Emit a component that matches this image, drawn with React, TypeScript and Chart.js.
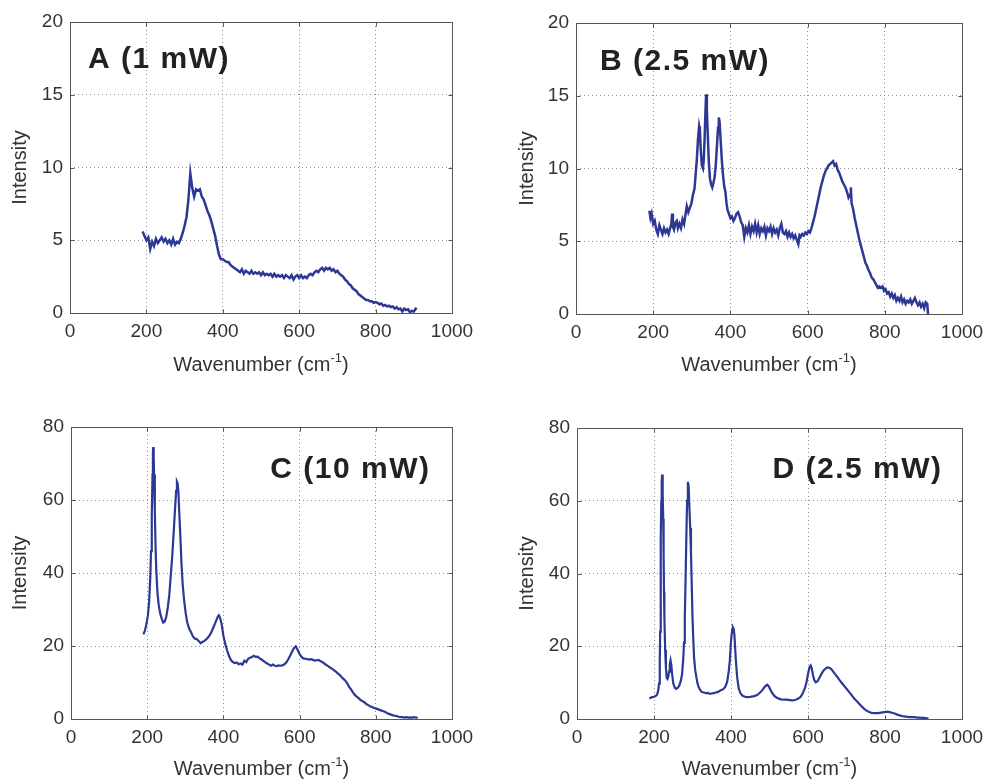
import React, { useEffect, useRef } from "react";
import { Chart, registerables } from "chart.js";

Chart.register(...registerables);

// ---------------- data ----------------
const xA = [190,195,200,205,210,215,220,225,230,235,240,245,250,255,260,265,270,275,280,285,290,295,300,305,310,315,320,325,330,335,340,345,350,355,360,365,370,375,380,385,390,395,400,405,410,415,420,425,430,435,440,445,450,455,460,465,470,475,480,485,490,495,500,505,510,515,520,525,530,535,540,545,550,555,560,565,570,575,580,585,590,595,600,605,610,615,620,625,630,635,640,645,650,655,660,665,670,675,680,685,690,695,700,705,710,715,720,725,730,735,740,745,750,755,760,765,770,775,780,785,790,795,800,805,810,815,820,825,830,835,840,845,850,855,860,865,870,875,880,885,890,895,900,905,908];
const yA = [5.6,5.3,5.0,5.2,4.4,4.9,4.6,5.1,4.8,5.0,5.2,4.9,5.1,4.8,5.0,4.7,5.1,4.7,4.9,4.8,5.1,5.5,6.0,6.6,7.8,9.6,8.6,8.0,8.5,8.4,8.5,8.0,7.8,7.4,7.0,6.7,6.3,5.8,5.3,4.6,4.0,3.7,3.7,3.6,3.5,3.5,3.3,3.2,3.1,3.0,2.9,2.8,3.0,2.7,2.9,2.8,2.7,2.9,2.7,2.8,2.7,2.8,2.6,2.8,2.6,2.7,2.6,2.7,2.5,2.7,2.5,2.6,2.5,2.6,2.4,2.6,2.5,2.4,2.6,2.3,2.5,2.6,2.4,2.6,2.4,2.5,2.4,2.6,2.7,2.6,2.8,2.9,2.8,3.0,3.1,2.9,3.1,3.0,3.1,2.9,3.0,2.8,2.9,2.7,2.6,2.5,2.3,2.2,2.0,1.9,1.7,1.6,1.5,1.3,1.2,1.1,1.0,0.9,0.9,0.8,0.8,0.7,0.75,0.7,0.6,0.65,0.5,0.55,0.45,0.5,0.4,0.45,0.3,0.4,0.25,0.3,0.1,0.3,0.2,0.25,0.05,0.15,0.1,0.3,0.25];

const xB = [190,193,196,200,204,208,212,216,220,224,228,232,236,240,244,247,249,251,254,258,261,264,268,272,276,280,284,287,291,295,299,303,307,310,313,316,319,321,323,326,329,331,333,335,337,339,341,344,347,350,353,356,359,362,365,368,370,372,375,378,381,384,387,390,393,396,400,404,408,412,416,420,424,428,432,436,440,444,448,452,456,460,464,468,472,476,480,484,488,492,496,500,504,508,512,516,520,524,528,532,536,540,544,548,552,556,560,564,568,572,576,579,582,586,590,594,598,602,606,610,614,618,622,626,630,634,638,642,646,650,654,658,662,666,670,674,678,682,686,690,694,698,702,706,710,712,714,718,722,726,730,734,738,742,746,750,754,758,762,766,770,774,778,782,786,790,794,798,802,806,810,814,818,822,826,830,834,838,842,846,850,854,858,862,866,870,874,878,882,886,890,894,898,902,906,910,912];
const yB = [7.1,6.6,6.9,6.2,6.4,5.8,5.5,6.1,5.8,5.5,5.9,5.6,5.8,5.5,5.9,6.2,6.9,6.0,5.8,6.3,6.4,5.9,6.2,5.9,6.5,6.2,6.9,7.4,7.0,7.3,7.6,8.2,8.6,9.6,10.6,12.0,12.9,12.6,11.4,10.2,10.0,10.6,11.9,13.6,15.1,14.0,12.6,10.5,9.3,8.9,8.7,9.0,9.4,10.2,11.5,12.8,13.5,13.2,11.8,10.5,9.5,8.8,8.4,7.6,7.1,6.9,6.6,6.7,6.4,6.6,6.9,7.0,6.7,6.3,6.1,5.3,5.9,5.6,6.1,5.5,6.0,5.7,6.2,5.6,6.1,5.5,5.9,5.7,6.0,5.4,5.9,5.7,6.0,5.5,5.9,5.6,5.8,5.4,5.9,6.2,5.6,5.5,5.7,5.3,5.6,5.3,5.5,5.2,5.4,5.1,4.8,5.4,5.3,5.5,5.4,5.6,5.5,5.7,5.6,5.9,6.3,6.7,7.2,7.7,8.2,8.7,9.1,9.5,9.8,10.0,10.2,10.3,10.4,10.5,10.2,10.3,9.9,9.7,9.4,9.1,8.9,8.7,8.4,8.0,8.2,8.7,7.6,7.2,6.6,6.1,5.6,5.1,4.7,4.3,3.9,3.5,3.3,3.0,2.8,2.5,2.4,2.2,2.0,1.8,1.9,1.8,1.9,1.6,1.7,1.4,1.5,1.2,1.4,1.1,1.3,0.9,1.1,0.9,1.2,0.8,1.0,0.7,0.9,0.8,1.0,0.7,0.9,1.1,0.8,0.6,0.8,0.5,0.7,0.4,0.8,0.7,0.0];

const xC = [190,194,198,202,205,208,210,212,214,215,216,217,218,220,222,224,227,230,234,238,242,246,250,254,258,262,266,270,273,276,278,280,282,284,287,290,293,297,301,305,310,315,320,325,330,335,340,345,350,355,360,365,370,375,380,385,388,391,395,400,405,410,415,420,425,430,435,440,445,450,455,460,465,470,475,480,485,490,495,500,505,510,515,520,525,530,535,540,545,550,555,560,565,570,575,580,585,590,595,600,605,610,615,620,625,630,635,640,645,650,655,660,665,670,675,680,685,690,695,700,705,710,715,720,725,730,735,740,745,750,755,760,765,770,775,780,785,790,795,800,805,810,815,820,825,830,835,840,845,850,855,860,865,870,875,880,885,890,895,900,905,910];
const yC = [23.2,24.2,26.0,28.5,32,38.5,46,56,67,73,74.5,72,67,57,47,40.5,34.5,31.4,29,27.5,26.4,26.7,28.0,30.5,34,39.5,45,52,57.5,62.5,65.0,64.5,62,57,50,42.5,37,32.4,29,26.5,24.8,23.8,22.6,22.0,21.9,21.4,20.8,21.1,21.4,21.8,22.4,23.1,24.2,25.4,26.7,28.0,28.4,27.8,26.2,22.8,20.5,18.7,17.2,16.1,15.6,15.3,15.5,15.0,15.2,14.9,16.0,15.6,16.5,16.8,17.0,17.3,17.0,17.1,16.6,16.3,15.9,15.5,15.2,14.9,14.6,14.9,14.6,14.5,14.7,14.6,14.7,15.0,15.5,16.3,17.3,18.4,19.4,19.9,18.9,17.8,17.0,16.6,16.5,16.4,16.3,16.4,16.2,16.0,16.1,16.2,15.8,15.6,15.2,14.8,14.5,14.1,13.8,13.4,13.0,12.5,12.1,11.5,11.0,10.5,9.8,8.8,8.1,7.3,6.6,6.1,5.7,5.2,4.9,4.6,4.1,3.8,3.5,3.3,3.0,2.9,2.7,2.5,2.3,2.1,1.9,1.6,1.4,1.2,1.0,0.9,0.8,0.6,0.5,0.5,0.4,0.5,0.4,0.45,0.4,0.5,0.4,0.3];

const xD = [188,192,196,200,204,208,211,213,215,216,217,218,219,220,221,222,223,224,225,226,227,229,231,233,235,237,239,241,243,245,247,250,254,258,262,266,270,273,276,278,280,282,284,286,288,290,292,294,296,298,300,302,304,307,310,313,316,320,324,330,335,340,345,350,355,360,365,370,375,380,385,390,394,397,400,403,405,407,409,411,413,416,420,425,430,440,450,460,468,475,482,488,494,498,502,507,512,518,524,530,538,545,552,560,568,575,581,587,592,596,600,604,607,610,613,616,620,625,630,635,640,645,650,655,660,665,670,676,682,688,694,700,707,714,720,727,733,740,746,752,759,765,772,780,787,793,799,806,812,818,825,832,838,845,851,858,864,870,877,884,890,897,903,908,913];
const yD = [5.6,5.9,6.0,6.1,6.3,6.7,7.8,9.7,16,24,35,50,60,65,67.2,66,62,55,45,35,28,19,14,11.3,11.0,11.6,13.0,15.0,16.1,14.8,12.5,9.8,8.6,8.3,8.6,9.3,10.6,12.5,16.5,21,28,38,50,60,65.2,64,58,52.6,46,37,28,22,17.0,13.5,11.5,9.8,8.8,8.0,7.4,7.3,7.1,7.2,6.9,7.0,7.1,7.3,7.4,7.7,8.0,8.2,8.8,10.2,13.0,16.1,21.5,24.5,25.2,24.8,23.0,19.0,15.5,11.5,8.4,7.0,6.4,6.0,6.1,6.3,6.6,7.2,8.0,8.9,9.4,9.0,8.1,7.2,6.4,5.9,5.6,5.4,5.3,5.3,5.2,5.1,5.3,5.6,6.1,7.2,8.5,10.0,12.4,14.3,14.7,13.8,12.0,10.8,10.1,10.4,11.4,12.4,13.3,13.8,14.2,14.1,13.8,13.1,12.4,11.6,10.7,9.9,9.1,8.3,7.4,6.5,5.6,4.9,4.2,3.4,2.8,2.3,1.9,1.7,1.6,1.6,1.7,1.8,1.9,2.0,1.9,1.7,1.5,1.2,1.0,0.8,0.7,0.6,0.5,0.5,0.5,0.4,0.4,0.3,0.3,0.2,0.1];

const xTicks = [0, 200, 400, 600, 800, 1000];
const yTicksLow = [0, 5, 10, 15, 20];
const yTicksHigh = [0, 20, 40, 60, 80];
const panelLabels = ["A (1 mW)", "B (2.5 mW)", "C (10 mW)", "D (2.5 mW)"];
const xTitleMain = "Wavenumber (cm";
const xTitleSup = "-1";
const xTitleEnd = ")";
const yTitle = "Intensity";

// ---------------- layout / style ----------------
const LINE_COLOR = "#2c3894";
const TEXT_COLOR = "#333333";
const FRAME_COLOR = "#555555";
const GRID_COLOR = "#8c8c8c";
const FONT = "'Liberation Sans', Arial, Helvetica, sans-serif";

type Panel = {
  xs: number[];
  ys: number[];
  yTicks: number[];
  label: string;
  lineWidth: number;
  left: number; top: number; w: number; h: number;
  pl: number; pr: number; pt: number; pb: number;
  yTitlePad: number;
  labelAlign: "left" | "right";
  labelX: number; labelY: number;
  xTitleY: number;
};

const panels: Panel[] = [
  { xs: xA, ys: yA, yTicks: yTicksLow, label: panelLabels[0], lineWidth: 2.5, left: 0, top: 0, w: 493, h: 390,
    pl: 70, pr: 452, pt: 22, pb: 313, yTitlePad: 8, labelAlign: "left", labelX: 88, labelY: 68, xTitleY: 371 },
  { xs: xB, ys: yB, yTicks: yTicksLow, label: panelLabels[1], lineWidth: 2.5, left: 493, top: 0, w: 493, h: 390,
    pl: 83, pr: 469, pt: 23, pb: 314, yTitlePad: 22, labelAlign: "left", labelX: 107, labelY: 70, xTitleY: 371 },
  { xs: xC, ys: yC, yTicks: yTicksHigh, label: panelLabels[2], lineWidth: 2.2, left: 0, top: 390, w: 493, h: 391,
    pl: 71, pr: 452, pt: 37, pb: 329, yTitlePad: 8, labelAlign: "right", labelX: 429, labelY: 88, xTitleY: 385 },
  { xs: xD, ys: yD, yTicks: yTicksHigh, label: panelLabels[3], lineWidth: 2.2, left: 493, top: 390, w: 493, h: 391,
    pl: 84, pr: 469, pt: 38, pb: 329, yTitlePad: 22, labelAlign: "right", labelX: 448, labelY: 88, xTitleY: 385 },
];

function drawSpaced(ctx: CanvasRenderingContext2D, text: string, x: number, y: number, align: "left" | "right", spacing: number) {
  const chars = Array.from(text);
  const widths = chars.map((c) => ctx.measureText(c).width);
  const total = widths.reduce((a, b) => a + b, 0) + spacing * (chars.length - 1);
  let cx = align === "left" ? x : x - total;
  ctx.textAlign = "left";
  chars.forEach((c, i) => {
    ctx.fillText(c, cx, y);
    cx += widths[i] + spacing;
  });
}

function PanelChart({ p }: { p: Panel }) {
  const ref = useRef<HTMLCanvasElement | null>(null);

  useEffect(() => {
    if (!ref.current) return;
    const decor = {
      id: "decor",
      afterDraw(chart: any) {
        const { ctx, chartArea } = chart;
        const { left, right, top, bottom } = chartArea;
        const sx = chart.scales.x;
        const sy = chart.scales.y;
        ctx.save();
        ctx.strokeStyle = FRAME_COLOR;
        ctx.lineWidth = 1;
        ctx.setLineDash([]);
        const L = Math.round(left) + 0.5, R = Math.round(right) + 0.5;
        const T = Math.round(top) + 0.5, B = Math.round(bottom) + 0.5;
        ctx.beginPath();
        xTicks.forEach((v) => {
          const px = Math.round(sx.getPixelForValue(v)) + 0.5;
          ctx.moveTo(px, B); ctx.lineTo(px, B - 4);
          ctx.moveTo(px, T); ctx.lineTo(px, T + 4);
        });
        p.yTicks.forEach((v) => {
          const py = Math.round(sy.getPixelForValue(v)) + 0.5;
          ctx.moveTo(L, py); ctx.lineTo(L + 4, py);
          ctx.moveTo(R, py); ctx.lineTo(R - 4, py);
        });
        ctx.stroke();
        ctx.strokeRect(L, T, R - L, B - T);

        // panel label
        ctx.fillStyle = "#222222";
        ctx.font = `bold 30px ${FONT}`;
        ctx.textBaseline = "alphabetic";
        drawSpaced(ctx, p.label, p.labelX, p.labelY, p.labelAlign, 1.5);

        // x title with superscript
        ctx.fillStyle = TEXT_COLOR;
        const mainFont = `20px ${FONT}`;
        const supFont = `13px ${FONT}`;
        ctx.font = mainFont;
        const w1 = ctx.measureText(xTitleMain).width;
        const w3 = ctx.measureText(xTitleEnd).width;
        ctx.font = supFont;
        const w2 = ctx.measureText(xTitleSup).width;
        const cx = (left + right) / 2;
        const x0 = cx - (w1 + w2 + w3) / 2;
        ctx.textAlign = "left";
        ctx.font = mainFont;
        ctx.fillText(xTitleMain, x0, p.xTitleY);
        ctx.font = supFont;
        ctx.fillText(xTitleSup, x0 + w1, p.xTitleY - 9);
        ctx.font = mainFont;
        ctx.fillText(xTitleEnd, x0 + w1 + w2, p.xTitleY);
        ctx.restore();
      },
    };

    const chart = new Chart(ref.current, {
      type: "line",
      data: {
        datasets: [
          {
            data: p.xs.map((x, i) => ({ x, y: p.ys[i] })),
            borderColor: LINE_COLOR,
            borderWidth: p.lineWidth,
            pointRadius: 0,
            tension: 0,
            fill: false,
          },
        ],
      },
      options: {
        responsive: false,
        animation: false,
        events: [],
        layout: { padding: { left: 0, top: p.pt, right: p.w - p.pr, bottom: 0 } },
        plugins: { legend: { display: false }, tooltip: { enabled: false } },
        scales: {
          x: {
            type: "linear",
            min: 0,
            max: 1000,
            afterBuildTicks: (s: any) => { s.ticks = xTicks.map((v) => ({ value: v })); },
            afterFit: (s: any) => { s.height = p.h - p.pb; s.paddingLeft = 0; s.paddingRight = 0; },
            ticks: {
              color: TEXT_COLOR,
              font: { family: FONT, size: 19 },
              padding: 7,
              maxRotation: 0,
              autoSkip: false,
              callback: (v: any) => String(v),
            },
            grid: { color: GRID_COLOR, lineWidth: 1, drawTicks: false },
            border: { display: false, dash: [1, 3] },
          },
          y: {
            type: "linear",
            min: 0,
            max: p.yTicks[p.yTicks.length - 1],
            afterBuildTicks: (s: any) => { s.ticks = p.yTicks.map((v) => ({ value: v })); },
            afterFit: (s: any) => { s.width = p.pl; s.paddingTop = 0; s.paddingBottom = 0; },
            ticks: {
              color: TEXT_COLOR,
              font: { family: FONT, size: 19 },
              padding: 7,
              autoSkip: false,
              callback: (v: any) => String(v),
            },
            grid: { color: GRID_COLOR, lineWidth: 1, drawTicks: false },
            border: { display: false, dash: [1, 3] },
            title: {
              display: true,
              text: yTitle,
              color: TEXT_COLOR,
              font: { family: FONT, size: 20 },
              padding: { top: p.yTitlePad, bottom: 0 },
            },
          },
        },
      },
      plugins: [decor],
    } as any);
    return () => chart.destroy();
  }, [p]);

  return (
    <canvas
      ref={ref}
      width={p.w}
      height={p.h}
      style={{ position: "absolute", left: p.left, top: p.top, width: p.w, height: p.h, display: "block" }}
    />
  );
}

export default function App() {
  return (
    <div style={{ position: "absolute", left: 0, top: 0, width: 986, height: 781, background: "#ffffff" }}>
      {panels.map((p, i) => (
        <PanelChart key={i} p={p} />
      ))}
    </div>
  );
}
